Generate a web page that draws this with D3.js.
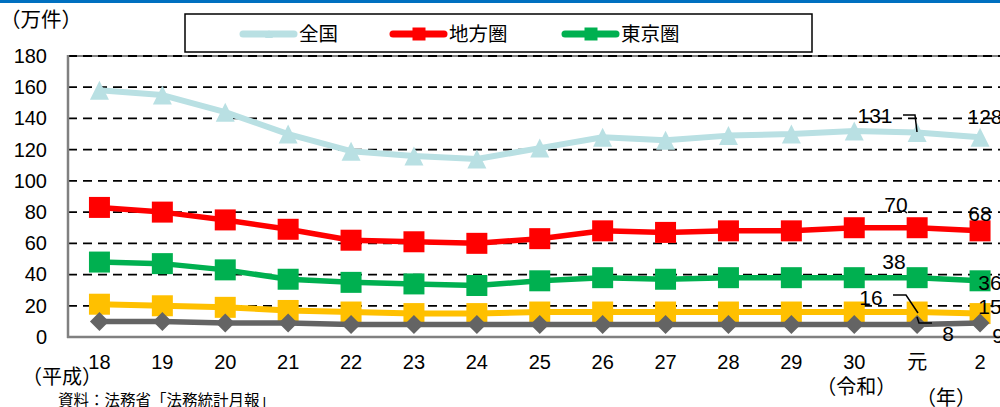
<!DOCTYPE html>
<html>
<head>
<meta charset="utf-8">
<script src="https://cdn.jsdelivr.net/npm/d3@7"></script>
<style>
  html, body { margin: 0; padding: 0; background: #fff; }
  svg { display: block; }
  text { font-family: "Liberation Sans", Arial, "Noto Sans CJK JP", sans-serif; fill: #000; }
  .jp { font-family: "Noto Sans CJK JP", "Liberation Sans", sans-serif; }
</style>
</head>
<body>
<svg id="chart" width="1000" height="407"></svg>
<script>
// 年次（平成18年〜令和2年）
const years = ["18", "19", "20", "21", "22", "23", "24", "25", "26", "27", "28", "29", "30", "元", "2"];
// 件数（万件）
const zenkoku   = [158, 155, 144, 130, 119, 116, 114, 121, 128, 126, 129, 130, 132, 131, 128];
const chihoken  = [83, 80, 75, 69, 62, 61, 60, 63, 68, 67, 68, 68, 70, 70, 68];
const tokyoken  = [48, 47, 43, 37, 35, 34, 33, 36, 38, 37, 38, 38, 38, 38, 36];
const seriesY   = [21, 20, 19, 17, 16, 15, 15, 16, 16, 16, 16, 16, 16, 16, 15];
const seriesG   = [10, 10, 9, 9, 8, 8, 8, 8, 8, 8, 8, 8, 8, 8, 9];
const yTicks    = [0, 20, 40, 60, 80, 100, 120, 140, 160, 180];
const legendNames = ["全国", "地方圏", "東京圏"];

const svg = d3.select("#chart");

const x = d3.scaleBand().domain(years).range([68, 68 + 15 * 62.9]);
const cx = d => x(d) + x.bandwidth() / 2;
const y = d3.scaleLinear().domain([0, 180]).range([337, 56]);

// top rule
svg.append("rect").attr("x", 0).attr("y", 0).attr("width", 1000).attr("height", 3).attr("fill", "#0070C0");

// plot frame (top)
svg.append("line").attr("x1", 68).attr("x2", 1000).attr("y1", y(180)).attr("y2", y(180))
  .attr("stroke", "#808080").attr("stroke-width", 2);

// dashed grid
svg.append("g").selectAll("line").data(yTicks.filter(v => v > 0)).join("line")
  .attr("x1", 68).attr("x2", 1000)
  .attr("y1", d => y(d)).attr("y2", d => y(d))
  .attr("stroke", "#000").attr("stroke-width", 1.8).attr("stroke-dasharray", "9,6");

// axes
const yAxis = d3.axisLeft(y).tickValues(yTicks).tickSize(0).tickPadding(0);
const gy = svg.append("g").attr("transform", "translate(47,0)").call(yAxis);
gy.select(".domain").remove();
gy.selectAll("text").attr("font-size", 20).attr("font-family", "Liberation Sans, Arial, sans-serif").attr("fill", "#000");

svg.append("line").attr("x1", 68).attr("x2", 68).attr("y1", y(180) - 1).attr("y2", y(0) + 1)
  .attr("stroke", "#808080").attr("stroke-width", 2.5);
svg.append("line").attr("x1", 67).attr("x2", 1000).attr("y1", y(0)).attr("y2", y(0))
  .attr("stroke", "#808080").attr("stroke-width", 2.5);

const xAxis = d3.axisBottom(x).tickSize(0).tickPadding(0);
const gx = svg.append("g").attr("transform", "translate(0,355)").call(xAxis);
gx.select(".domain").remove();
gx.selectAll("text").attr("font-size", 20).attr("dy", "0.72em")
  .attr("font-family", d => d === "元" ? "Noto Sans CJK JP, sans-serif" : "Liberation Sans, Arial, sans-serif")
  .attr("fill", "#000");

// series
const series = [
  { name: "全国",   values: zenkoku,  color: "#B9E0E3", width: 6,   marker: "triangle", size: 19 },
  { name: "地方圏", values: chihoken, color: "#FF0000", width: 5.5, marker: "square",   size: 21 },
  { name: "東京圏", values: tokyoken, color: "#00B050", width: 5.5, marker: "square",   size: 21 },
  { name: "",       values: seriesY,  color: "#FFC000", width: 6,   marker: "square",   size: 21 },
  { name: "",       values: seriesG,  color: "#646464", width: 5.5, marker: "diamond",  size: 19 }
];

const line = d3.line().x((d, i) => cx(years[i])).y(d => y(d));

function markerPath(type, s) {
  const h = s / 2;
  if (type === "triangle") return `M0,${-h}L${h},${h}L${-h},${h}Z`;
  if (type === "diamond") return `M0,${-h}L${h},0L0,${h}L${-h},0Z`;
  return `M${-h},${-h}H${h}V${h}H${-h}Z`;
}

series.forEach(s => {
  const g = svg.append("g");
  g.append("path").datum(s.values).attr("d", line)
    .attr("fill", "none").attr("stroke", s.color).attr("stroke-width", s.width)
    .attr("stroke-linejoin", "round");
  g.selectAll("path.m").data(s.values).join("path").attr("class", "m")
    .attr("transform", (d, i) => `translate(${cx(years[i])},${y(d)})`)
    .attr("d", markerPath(s.marker, s.size))
    .attr("fill", s.color);
});

// data labels for the last two years
const fmt = d3.format("d");
const labels = [
  { v: zenkoku[13],  x: 875, y: 115 },
  { v: zenkoku[14],  x: 985, y: 116 },
  { v: chihoken[13], x: 896, y: 204 },
  { v: chihoken[14], x: 980, y: 213 },
  { v: tokyoken[13], x: 894, y: 261 },
  { v: tokyoken[14], x: 990, y: 282 },
  { v: seriesY[13],  x: 871, y: 297 },
  { v: seriesY[14],  x: 990, y: 306 },
  { v: seriesG[13],  x: 948, y: 333 },
  { v: seriesG[14],  x: 998, y: 335 }
];
svg.append("g").selectAll("text").data(labels).join("text")
  .attr("x", d => d.x).attr("y", d => d.y).attr("dy", "0.36em")
  .attr("text-anchor", "middle").attr("font-size", 21)
  .text(d => fmt(d.v));

// leader lines
const leaders = [
  [[903, 115], [915, 115], [917, 132]],
  [[903, 210], [907, 213]],
  [[893, 295], [906, 295], [918, 313]],
  [[917, 317], [919, 323], [932, 323]]
];
svg.append("g").selectAll("path").data(leaders).join("path")
  .attr("d", d => d3.line()(d)).attr("fill", "none").attr("stroke", "#000").attr("stroke-width", 1.5);

// legend
const lg = svg.append("g");
lg.append("rect").attr("x", 185).attr("y", 14).attr("width", 627).attr("height", 38)
  .attr("fill", "#fff").attr("stroke", "#000").attr("stroke-width", 1.5);
const legendPos = [243, 393, 565];
legendNames.forEach((n, i) => {
  const s = series[i];
  const x0 = legendPos[i];
  lg.append("line").attr("x1", x0).attr("x2", x0 + 51).attr("y1", 34).attr("y2", 34)
    .attr("stroke", s.color).attr("stroke-width", 7).attr("stroke-linecap", "round");
  lg.append("path").attr("transform", `translate(${x0 + 26},34)`)
    .attr("d", markerPath(s.marker, s.marker === "triangle" ? 8 : 13)).attr("fill", s.color);
  lg.append("text").attr("class", "jp").attr("x", x0 + 56).attr("y", 34).attr("dy", "0.36em")
    .attr("font-size", 19.5).text(n);
});

// units and notes
svg.append("text").attr("class", "jp").attr("x", 0).attr("y", 20).attr("dy", "0.36em").attr("font-size", 20.5).text("（万件）");
svg.append("text").attr("class", "jp").attr("x", 22).attr("y", 377).attr("dy", "0.36em").attr("font-size", 20).text("（平成）");
svg.append("text").attr("class", "jp").attr("x", cx("30") + 2).attr("y", 387).attr("dy", "0.36em").attr("text-anchor", "middle").attr("font-size", 20).text("（令和）");
svg.append("text").attr("class", "jp").attr("x", 946).attr("y", 398).attr("dy", "0.36em").attr("text-anchor", "middle").attr("font-size", 20).text("（年）");
svg.append("text").attr("class", "jp").attr("x", 58).attr("y", 400).attr("dy", "0.36em").attr("font-size", 15.5).text("資料：法務省「法務統計月報」");
</script>
</body>
</html>
